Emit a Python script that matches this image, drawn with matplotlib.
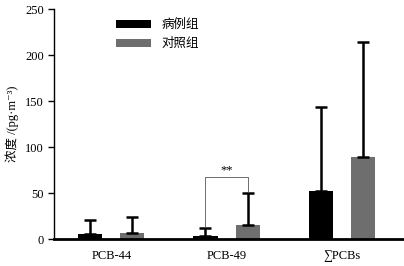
import numpy as np
import matplotlib
matplotlib.use("Agg")
import matplotlib.pyplot as plt

plt.rcParams['font.family'] = ['Liberation Serif', 'Noto Sans CJK SC', 'DejaVu Serif']

categories = ["PCB-44", "PCB-49", "∑PCBs"]
case_mean = [5.5, 3, 52]
case_err = [15, 9, 91]
ctrl_mean = [7, 15, 89]
ctrl_err = [17, 35, 125]
series_names = ["病例组", "对照组"]

fig = plt.figure(figsize=(4.04, 2.66), dpi=100)
ax = fig.add_axes([0.134, 0.1015, 0.866, 0.8645])

x = np.arange(len(categories))
w = 0.21
off = 0.183
ekw = dict(elinewidth=1.8, capthick=1.8)
ax.bar(x - off, case_mean, w, color="black", label=series_names[0],
       yerr=[np.zeros(3), case_err], capsize=4.3, error_kw=ekw)
ax.bar(x + off, ctrl_mean, w, color="#6e6e6e", label=series_names[1],
       yerr=[np.zeros(3), ctrl_err], capsize=4.3, error_kw=ekw)

# significance bracket for PCB-49
x1, x2 = x[1] - off, x[1] + off
yb = 67
ax.plot([x1, x1, x2, x2], [case_mean[1] + case_err[1] + 1, yb, yb, ctrl_mean[1] + ctrl_err[1] + 1],
        color="#555555", lw=0.6)
ax.text(x[1], yb + 1, "**", ha="center", va="bottom", fontsize=9)

ax.set_xlim(-0.496, 2.54)
ax.set_ylim(0, 250)
ax.set_yticks([0, 50, 100, 150, 200, 250])
ax.set_xticks(x)
ax.set_xticklabels(categories, fontsize=9)
ax.tick_params(axis="x", length=0, pad=8)
ax.tick_params(axis="y", labelsize=9, direction="out", length=4, width=1)
for s in ["top", "right"]:
    ax.spines[s].set_visible(False)
ax.spines["bottom"].set_linewidth(2)
ax.spines["left"].set_linewidth(1)
ax.set_ylabel("浓度 /(pg·m⁻³)", fontsize=9, labelpad=4)

ax.legend(loc="upper left", bbox_to_anchor=(0.145, 1.01), frameon=False,
          handlelength=2.8, handleheight=0.6, labelspacing=0.5,
          prop={'family': ['Noto Sans CJK SC'], 'size': 9})

fig.savefig("out.png", dpi=100)
